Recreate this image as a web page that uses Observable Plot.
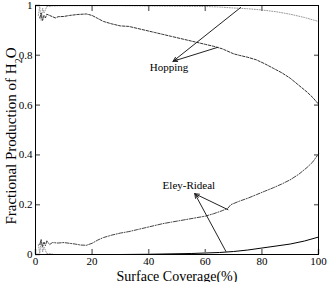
<!DOCTYPE html>
<html>
<head>
<meta charset="utf-8">
<script src="https://cdn.jsdelivr.net/npm/d3@7"></script>
<script src="https://cdn.jsdelivr.net/npm/@observablehq/plot@0.6"></script>
<style>
  html, body { margin: 0; padding: 0; background: #fff; }
  svg, svg text { font-family: "Liberation Serif", "DejaVu Serif", serif !important; }
</style>
</head>
<body>
<div id="chart"></div>
<script>
// ---- data ----
const xTicks = [0, 20, 40, 60, 80, 100];
const yTicks = [0, 0.2, 0.4, 0.6, 0.8, 1];
const yTickLabels = ["0", "0.2", "0.4", "0.6", "0.8", "1"];

// Hopping (dashed)
const hopDashX = [1.5,2,2.5,3,3.5,4,5,6,7,8,10,12,15,18,20,22,24,27,30,33,36,39,42,45,48,51,54,57,60,63,66,68,70,72,75,78,81,84,87,90,93,96,98,100];
const hopDashY = [0.95,0.97,0.94,0.96,0.95,0.965,0.96,0.955,0.95,0.955,0.956,0.96,0.964,0.966,0.96,0.948,0.936,0.926,0.918,0.916,0.908,0.9,0.892,0.884,0.876,0.868,0.86,0.852,0.844,0.836,0.826,0.816,0.806,0.8,0.792,0.782,0.766,0.748,0.73,0.708,0.68,0.652,0.63,0.604];

// Hopping (dotted, near 1)
const hopDotX = [1,1.5,2,2.5,3,4,6,10,20,30,40,50,60,65,70,75,80,85,90,95,100];
const hopDotY = [0.96,0.995,0.94,0.99,0.97,0.996,0.998,0.999,0.999,0.999,0.998,0.997,0.996,0.994,0.99,0.987,0.982,0.975,0.965,0.952,0.936];

// Eley-Rideal (dotted, near 0)
const erDotX = [1,1.5,2,2.5,3,4,6];
const erDotY = [0.04,0.005,0.06,0.01,0.03,0.004,0.002];

// Eley-Rideal (dash-dot)
const erDashX = [1.5,2,2.5,3,3.5,4,5,6,8,10,12,14,16,18,20,22,24,27,30,33,36,39,42,45,48,51,54,57,60,63,66,68,69,72,75,78,81,84,87,90,93,96,98,100];
const erDashY = [0.04,0.06,0.03,0.05,0.035,0.055,0.04,0.048,0.046,0.048,0.045,0.042,0.038,0.037,0.045,0.058,0.068,0.078,0.086,0.092,0.1,0.108,0.116,0.124,0.13,0.136,0.142,0.148,0.154,0.164,0.176,0.186,0.2,0.214,0.226,0.24,0.254,0.268,0.283,0.3,0.322,0.35,0.372,0.404];

// Eley-Rideal (solid)
const erSolidX = [0,10,20,30,40,45,50,55,60,65,70,75,80,85,90,95,100];
const erSolidY = [0,0,0,0,0.001,0.002,0.003,0.004,0.006,0.008,0.012,0.018,0.026,0.034,0.042,0.054,0.07];

// annotation arrows (tail -> head)
const arrowX1 = [72.5, 64.4, 67.3, 68];
const arrowY1 = [0.992, 0.832, 0.012, 0.18];
const arrowX2 = [48.6, 48.6, 56.3, 56.3];
const arrowY2 = [0.776, 0.776, 0.244, 0.244];

const labelText = ["Hopping", "Eley-Rideal"];
const labelX = [47.2, 54.2];
const labelY = [0.752, 0.276];

const xLabel = "Surface Coverage(%)";

// ---- build tables ----
const zipXY = (xs, ys) => xs.map((x, i) => ({x, y: ys[i]}));
const hopDash = zipXY(hopDashX, hopDashY);
const hopDot = zipXY(hopDotX, hopDotY);
const erDot = zipXY(erDotX, erDotY);
const erDash = zipXY(erDashX, erDashY);
const erSolid = zipXY(erSolidX, erSolidY);
const arrows = arrowX1.map((x1, i) => ({x1, y1: arrowY1[i], x2: arrowX2[i], y2: arrowY2[i]}));
const labels = labelText.map((t, i) => ({t, x: labelX[i], y: labelY[i]}));

const tickStroke = "#777";

const plot = Plot.plot({
  width: 327,
  height: 282,
  marginLeft: 35,
  marginRight: 9,
  marginTop: 5,
  marginBottom: 28,
  style: {fontFamily: "'Liberation Serif', serif", fontSize: "11px", color: "#000", background: "#fff", overflow: "visible"},
  x: {domain: [0, 100]},
  y: {domain: [0, 1]},
  marks: [
    Plot.line(hopDot, {x: "x", y: "y", stroke: "#9a9a9a", strokeWidth: 1, strokeDasharray: "1,1.5"}),
    Plot.line(erDot, {x: "x", y: "y", stroke: "#9a9a9a", strokeWidth: 1, strokeDasharray: "1,1.5"}),
    Plot.line(hopDash, {x: "x", y: "y", stroke: "#333", strokeWidth: 1, strokeDasharray: "2.5,1.5"}),
    Plot.line(erDash, {x: "x", y: "y", stroke: "#444", strokeWidth: 1, strokeDasharray: "4,1.5,1,1.5"}),
    Plot.line(erSolid, {x: "x", y: "y", stroke: "#000", strokeWidth: 1}),
    Plot.arrow(arrows, {x1: "x1", y1: "y1", x2: "x2", y2: "y2", stroke: "#222", strokeWidth: 1, headLength: 7, headAngle: 40}),
    Plot.text(labels, {x: "x", y: "y", text: "t", fontSize: 11, fill: "#000"}),
    Plot.axisX({anchor: "bottom", ticks: xTicks, tickSize: -5, tickPadding: 8, stroke: tickStroke, strokeWidth: 1.5, fontSize: 11, fill: "#000"}),
    Plot.axisX({anchor: "top", ticks: [20, 40, 60, 80], tickSize: -5, tickFormat: () => "", stroke: tickStroke, strokeWidth: 1.5}),
    Plot.axisY({anchor: "left", ticks: yTicks, tickSize: -5, tickPadding: 8, tickFormat: (d) => yTickLabels[yTicks.indexOf(d)], stroke: tickStroke, strokeWidth: 1.5, fontSize: 11, fill: "#000"}),
    Plot.axisY({anchor: "right", ticks: [0.2, 0.4, 0.6, 0.8], tickSize: -5, tickFormat: () => "", stroke: tickStroke, strokeWidth: 1.5}),
    Plot.frame({stroke: "#000", strokeWidth: 1}),
    Plot.text([xLabel], {frameAnchor: "bottom", lineAnchor: "bottom", dy: 26, text: d => d, fontSize: 14, fill: "#000"})
  ]
});

// y-axis title with a real subscript
const svg = d3.select(plot);
const t = svg.append("text")
  .attr("transform", "translate(16,136) rotate(-90)")
  .attr("text-anchor", "middle")
  .attr("font-size", 15)
  .attr("fill", "#000");
t.append("tspan").text("Fractional Production of H");
t.append("tspan").attr("baseline-shift", "sub").attr("font-size", 10).text("2");
t.append("tspan").text("O");

document.getElementById("chart").appendChild(plot);
</script>
</body>
</html>
